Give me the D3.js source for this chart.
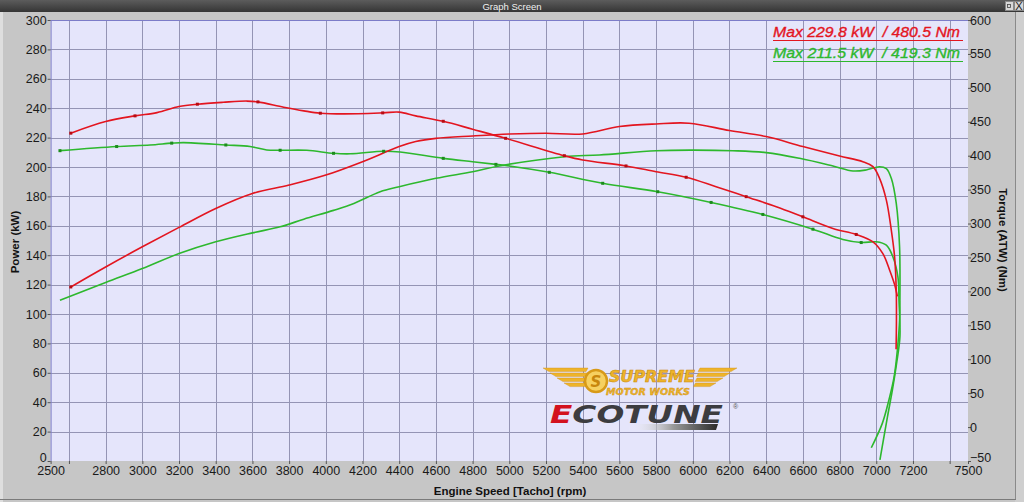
<!DOCTYPE html>
<html><head><meta charset="utf-8">
<script src="https://cdn.jsdelivr.net/npm/d3@7/dist/d3.min.js"></script>
<style>body{margin:0;background:#c6c6c6;overflow:hidden}svg{display:block}</style>
</head><body>
<script>
// ---- data (rpm, value) ----
const redPower = [[2610,118.4],[2800,132],[3000,145.7],[3200,158.9],[3400,171.8],[3600,182],[3800,187.7],[4000,194.5],[4200,203.6],[4400,213.9],[4490,217.3],[4600,219.5],[4800,221.1],[5000,222.4],[5200,223],[5400,222.5],[5600,227.5],[5800,229.3],[5980,229.8],[6200,224.8],[6400,220.7],[6600,213.9],[6800,207.5],[6927,203.6],[6982,200.2],[7018,192.3],[7055,177.5],[7082,157],[7100,138.8],[7109,116],[7110,95],[7108,76]];
const redTorque = [[2610,433.2],[2800,450.3],[2960,458.7],[3080,463.5],[3200,472.4],[3300,475.9],[3440,478.7],[3570,480.5],[3630,479.3],[3770,471.5],[3880,466.1],[3970,462.6],[4100,461.6],[4310,463.1],[4400,464.2],[4490,458.7],[4640,450.7],[4800,439],[4980,425.6],[5300,400],[5400,393.7],[5636,384.9],[5800,376.4],[5964,368.2],[6127,354.3],[6291,339.6],[6455,324.8],[6600,309.9],[6764,292.8],[6891,283.9],[6982,273.1],[7036,255.7],[7073,231.2],[7100,210],[7115,192.7]];
const greenPower = [[2551,109.3],[2800,121.4],[3000,130.9],[3200,141.1],[3400,149.1],[3600,155.2],[3751,159.3],[3880,164.5],[4042,170.5],[4153,175.2],[4296,183.2],[4400,186.6],[4600,192.3],[4800,196.8],[4945,200.7],[5300,207],[5491,208.2],[5800,211.1],[6000,211.5],[6218,211.1],[6400,209.8],[6582,205.9],[6764,200.7],[6873,197.3],[6945,198],[7018,200.2],[7055,198.9],[7082,192.3],[7109,175.2],[7127,145.7],[7129,109],[7128,98],[7115,75.5],[7097,57],[7069,41.5],[7033,25.6],[6973,9]];
const greenTorque = [[2551,407.4],[2860,413.5],[3042,415.8],[3160,418.5],[3224,419.3],[3455,415.8],[3587,413.5],[3678,408.5],[3751,408],[3896,408],[4042,403.5],[4133,402.8],[4315,406.5],[4405,405.4],[4640,396.1],[4800,391.1],[4927,387.2],[5000,384.9],[5218,375.5],[5509,359.3],[5809,346.9],[6100,331.1],[6382,313.4],[6655,291.7],[6818,276.5],[6918,272],[7000,273.1],[7055,268.1],[7091,250.7],[7118,221.3],[7124,186.2],[7129,133.1],[7111,94.1],[7088,54.7],[7061,15],[7020,-48.5]];
const redTorqueMarks = [2610,2960,3300,3630,3970,4310,4640,4980,5300,5636,5964,6291,6600,6891];
const redPowerMarks = [2610];
const greenTorqueMarks = [2551,2860,3160,3455,3751,4042,4315,4640,4927,5218,5509,5809,6100,6382,6655,6918];
const xTicks = [2500,2600,2800,3000,3200,3400,3600,3800,4000,4200,4400,4600,4800,5000,5200,5400,5600,5800,6000,6200,6400,6600,6800,7000,7200,7400,7500];
const xHiddenLabels = [2600,7400];
const xGrid = [2600,2800,3000,3200,3400,3600,3800,4000,4200,4400,4600,4800,5000,5200,5400,5600,5800,6000,6200,6400,6600,6800,7000,7200,7400];
const powerTicks = [0,20,40,60,80,100,120,140,160,180,200,220,240,260,280,300];
const torqueTicks = [-50,0,50,100,150,200,250,300,350,400,450,500,550,600];
const legendLines = ["Max 229.8 kW  / 480.5 Nm","Max 211.5 kW  / 419.3 Nm"];

const W=1024,H=502, L=50.6, R=968, T=20, B=461;
const RED="#e3151f", GREEN="#2db82d";
const svg=d3.select("body").append("svg").attr("width",W).attr("height",H);
const defs=svg.append("defs");
const tg=defs.append("linearGradient").attr("id","tb").attr("x1",0).attr("y1",0).attr("x2",0).attr("y2",1);
tg.append("stop").attr("offset",0).attr("stop-color","#5c5c5c");
tg.append("stop").attr("offset",1).attr("stop-color","#353535");
const bg=defs.append("linearGradient").attr("id","bar").attr("x1",0).attr("x2",1);
bg.append("stop").attr("offset",0).attr("stop-color","#ffffff").attr("stop-opacity",0);
bg.append("stop").attr("offset",0.5).attr("stop-color","#9a9a9a");
bg.append("stop").attr("offset",1).attr("stop-color","#2a2a2a");

// window chrome
svg.append("rect").attr("width",W).attr("height",H).attr("fill","#c6c6c6");
svg.append("rect").attr("x",0).attr("y",12).attr("width",3).attr("height",H).attr("fill","#dedede");
svg.append("rect").attr("x",1015).attr("y",12).attr("width",9).attr("height",H).attr("fill","#cfcfcf");
svg.append("line").attr("x1",1015.5).attr("x2",1015.5).attr("y1",12).attr("y2",500).attr("stroke","#8a8a8a");
svg.append("line").attr("x1",0).attr("x2",1016).attr("y1",499.5).attr("y2",499.5).attr("stroke","#7a7a7a");
svg.append("rect").attr("width",W).attr("height",12).attr("fill","url(#tb)");
svg.append("text").attr("x",512).attr("y",9.5).attr("text-anchor","middle").attr("fill","#f0f0f0")
  .attr("font-family","Liberation Sans, Arial").attr("font-size",9.5).text("Graph Screen");
svg.append("rect").attr("x",1005.5).attr("y",1.5).attr("width",8).attr("height",9).attr("fill","#d8d8d8").attr("stroke","#888");
svg.append("rect").attr("x",1007.5).attr("y",4.5).attr("width",3).attr("height",3).attr("fill","none").attr("stroke","#444").attr("stroke-width",0.8);
svg.append("rect").attr("x",1014.5).attr("y",1.5).attr("width",9).attr("height",9).attr("fill","#d8d8d8").attr("stroke","#888");
svg.append("text").attr("x",1019).attr("y",10).attr("text-anchor","middle").attr("font-family","Liberation Sans, Arial").attr("font-size",11).attr("fill","#222").text("X");

// scales
const x=d3.scaleLinear().domain([2500,7500]).range([L,R]);
const yP=d3.scaleLinear().domain([0,300]).range([B,T]);
const yT=d3.scaleLinear().domain([-50,600]).range([B,T]);

// plot area
svg.append("rect").attr("x",L).attr("y",T).attr("width",R-L).attr("height",B-T).attr("fill","#e5e5fb");
const grid=svg.append("g").attr("stroke","#9494b4").attr("stroke-width",1);
grid.selectAll("line.v").data(xGrid).join("line").attr("x1",d=>Math.round(x(d))+0.5).attr("x2",d=>Math.round(x(d))+0.5).attr("y1",T).attr("y2",B);
grid.selectAll("line.h").data(powerTicks.filter(d=>d>0&&d<300)).join("line").attr("y1",d=>Math.round(yP(d))+0.5).attr("y2",d=>Math.round(yP(d))+0.5).attr("x1",L).attr("x2",R);
svg.append("line").attr("x1",L).attr("x2",R).attr("y1",T+0.5).attr("y2",T+0.5).attr("stroke","#7c7cc8");
svg.append("line").attr("x1",L+0.5).attr("x2",L+0.5).attr("y1",T).attr("y2",B).attr("stroke","#7c7cc8");

// axes
const font="Liberation Sans, Arial, sans-serif";
const ax=svg.append("g").attr("transform",`translate(0,${B})`).call(d3.axisBottom(x).tickValues(xTicks).tickSize(3).tickPadding(2).tickFormat(d=>xHiddenLabels.includes(d)?"":d));
const ay=svg.append("g").attr("transform",`translate(${L},0)`).call(d3.axisLeft(yP).tickValues(powerTicks).tickSize(3).tickPadding(1));
const ar=svg.append("g").attr("transform",`translate(${R},0)`).call(d3.axisRight(yT).tickValues(torqueTicks).tickSize(3).tickPadding(1));
[ax,ay,ar].forEach(g=>{g.select(".domain").remove();g.selectAll("line").attr("stroke","#555");
  g.selectAll("text").attr("font-family",font).attr("font-size",12.5).attr("fill","#1a1a1a");});
ax.selectAll("text").attr("dy","0.75em");
ar.selectAll("text").attr("dx","-2");
ay.selectAll(".tick").filter(d=>d===0).select("text").attr("dy","0.05em");
ar.selectAll(".tick").filter(d=>d===-50).select("text").attr("dy","0.05em");

svg.append("text").attr("x",510).attr("y",495).attr("text-anchor","middle").attr("font-family",font).attr("font-weight","bold").attr("font-size",11.5).attr("fill","#111").text("Engine Speed [Tacho] (rpm)");
svg.append("text").attr("transform","translate(19,242) rotate(-90)").attr("text-anchor","middle").attr("font-family",font).attr("font-weight","bold").attr("font-size",11.5).attr("fill","#111").text("Power (kW)");
svg.append("text").attr("transform","translate(999,240) rotate(90)").attr("text-anchor","middle").attr("font-family",font).attr("font-weight","bold").attr("font-size",11.5).attr("fill","#111").text("Torque (ATW) (Nm)");

// logo
const logo=svg.append("g");
const gold="#eeb42a";
const stripes=[[543,368],[550,373],[557,378],[564,383]];
stripes.forEach(([x0,y0],i)=>{
  logo.append("path").attr("d",`M${x0},${y0} L${588},${y0} L${586},${y0+3.6} L${x0+6},${y0+3.6} Z`).attr("fill",gold).attr("stroke","#d09018").attr("stroke-width",0.4);
  const xo=1280-x0, xi=700-i*1.5;
  logo.append("path").attr("d",`M${xi},${y0} L${xo},${y0} L${xo-6},${y0+3.6} L${xi-2},${y0+3.6} Z`).attr("fill",gold).attr("stroke","#d09018").attr("stroke-width",0.4);
});
logo.append("circle").attr("cx",596).attr("cy",381).attr("r",11).attr("fill","#f6d060").attr("stroke","#d89a18").attr("stroke-width",2.5);
logo.append("text").attr("x",596).attr("y",386.5).attr("text-anchor","middle").attr("font-family","DejaVu Sans").attr("font-weight","bold").attr("font-style","italic").attr("font-size",15).attr("fill","#c8860c").text("S");
logo.append("text").attr("x",609).attr("y",382).attr("font-family","DejaVu Sans Condensed, DejaVu Sans").attr("font-weight","bold").attr("font-style","italic").attr("font-size",15).attr("textLength",86).attr("lengthAdjust","spacingAndGlyphs").attr("fill",gold).attr("stroke","#c98a10").attr("stroke-width",0.5).text("SUPREME");
logo.append("text").attr("x",606).attr("y",395).attr("font-family","DejaVu Sans Condensed, DejaVu Sans").attr("font-weight","bold").attr("font-style","italic").attr("font-size",9).attr("textLength",84).attr("lengthAdjust","spacingAndGlyphs").attr("fill",gold).attr("stroke","#c98a10").attr("stroke-width",0.3).text("MOTOR WORKS");
const eco=logo.append("text").attr("x",550).attr("y",423).attr("font-family","DejaVu Sans").attr("font-weight","bold").attr("font-style","italic").attr("font-size",24).attr("textLength",173).attr("lengthAdjust","spacingAndGlyphs");
eco.append("tspan").attr("fill","#d3121e").text("E");
eco.append("tspan").attr("fill","#3c3c40").text("COTUNE");
logo.append("path").attr("d","M630,424 L718,424 L716,430 L628,430 Z").attr("fill","url(#bar)");
logo.append("text").attr("x",733).attr("y",409).attr("font-family",font).attr("font-size",7).attr("fill","#555").text("®");

// curves
const line=(ys)=>d3.line().x(d=>x(d[0])).y(d=>ys(d[1])).curve(d3.curveCatmullRom.alpha(0.5));
const series=[[greenTorque,yT,GREEN],[greenPower,yP,GREEN],[redTorque,yT,RED],[redPower,yP,RED]];
series.forEach(([data,ys,c])=>{
  svg.append("path").datum(data).attr("d",line(ys)).attr("fill","none").attr("stroke",c).attr("stroke-width",1.6);
});
const marks=[[redTorque,redTorqueMarks,yT,"#b80c14"],[redPower,redPowerMarks,yP,"#b80c14"],[greenTorque,greenTorqueMarks,yT,"#1c8c1c"]];
marks.forEach(([data,rpms,ys,c])=>{
  svg.append("g").selectAll("rect").data(data.filter(d=>rpms.includes(d[0]))).join("rect")
    .attr("x",d=>x(d[0])-1.5).attr("y",d=>ys(d[1])-1.5).attr("width",3).attr("height",3).attr("fill",c);
});

// legend
const lg=svg.append("g");
legendLines.forEach((t,i)=>{
  const c=i===0?RED:GREEN, yb=37+i*21;
  lg.append("text").attr("x",773).attr("y",yb).attr("font-family",font).attr("font-style","italic").attr("font-size",14.5).attr("fill",c).attr("stroke",c).attr("stroke-width",0.35).attr("textLength",187).attr("lengthAdjust","spacingAndGlyphs").attr("xml:space","preserve").text(t);
  lg.append("line").attr("x1",773).attr("x2",963).attr("y1",yb+3.5).attr("y2",yb+3.5).attr("stroke",c).attr("stroke-width",1.2);
});
</script>
</body></html>
